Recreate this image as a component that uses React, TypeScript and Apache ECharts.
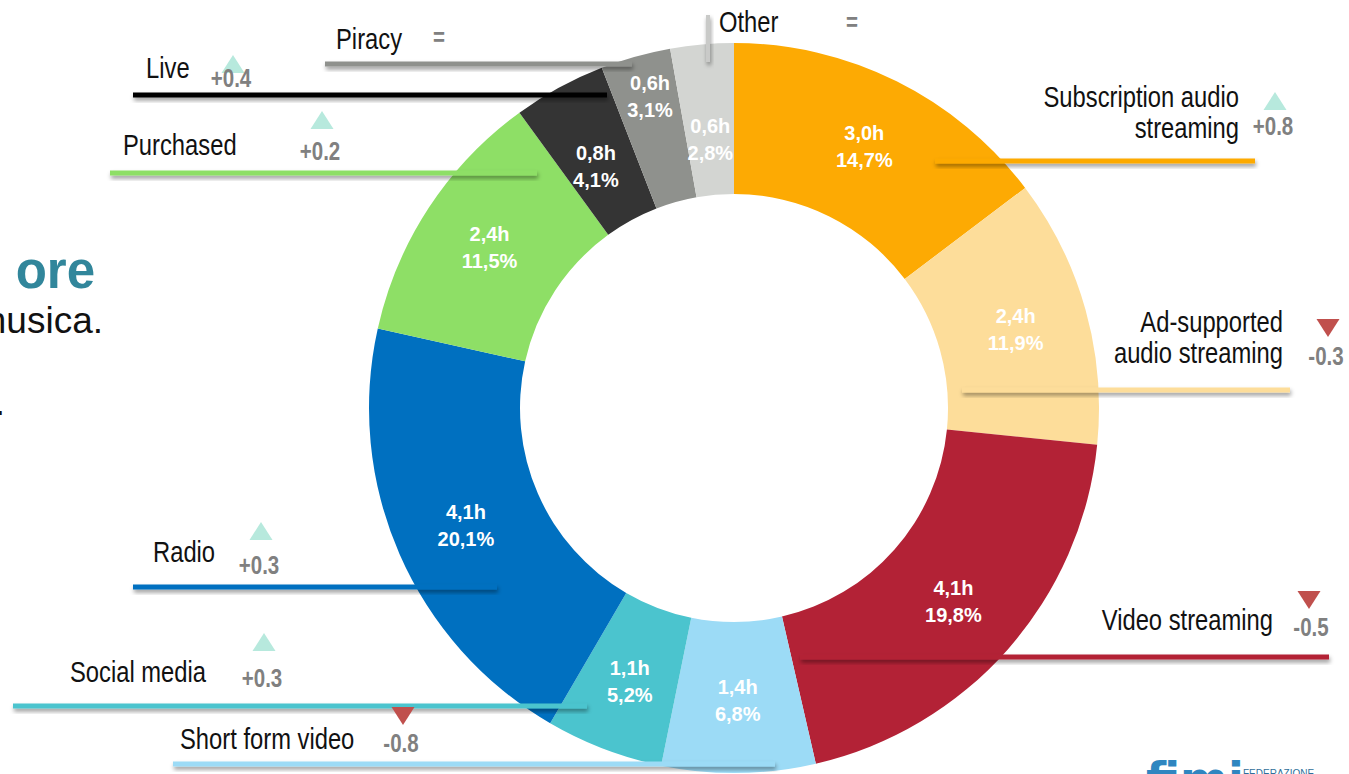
import React, { useEffect, useRef } from "react";
import * as echarts from "echarts";

// ---------- data ----------
const categories = [
  "Subscription audio streaming",
  "Ad-supported audio streaming",
  "Video streaming",
  "Short form video",
  "Social media",
  "Radio",
  "Purchased",
  "Live",
  "Piracy",
  "Other",
];
const labelLines = [
  ["Subscription audio", "streaming"],
  ["Ad-supported", "audio streaming"],
  ["Video streaming"],
  ["Short form video"],
  ["Social media"],
  ["Radio"],
  ["Purchased"],
  ["Live"],
  ["Piracy"],
  ["Other"],
];
const hours = [3.0, 2.4, 4.1, 1.4, 1.1, 4.1, 2.4, 0.8, 0.6, 0.6];
const shares = [14.7, 11.9, 19.8, 6.8, 5.2, 20.1, 11.5, 4.1, 3.1, 2.8];
const deltas = ["+0.8", "-0.3", "-0.5", "-0.8", "+0.3", "+0.3", "+0.2", "+0.4", "=", "="];
const trends = ["up", "down", "down", "down", "up", "up", "up", "up", "none", "none"];

// ---------- styles / layout ----------
const colors = [
  "#FDAA03",
  "#FDDD9A",
  "#B32236",
  "#9CDBF6",
  "#4BC4CE",
  "#0070C0",
  "#8EDF66",
  "#343434",
  "#8F918D",
  "#D3D5D2",
];
const lineColors = [
  "#FDAA03",
  "#FDDD9A",
  "#B32236",
  "#9CDBF6",
  "#4BC4CE",
  "#0070C0",
  "#8EDF66",
  "#000000",
  "#8F918D",
  "#C9CAC8",
];
// in-slice label nudges (px)
const labelNudges = [
  [0, 0],
  [0, 0],
  [0, 0],
  [0, 0],
  [0, 0],
  [0, 0],
  [0, 0],
  [2, 15],
  [-5, -30],
  [2, 23],
];
// label anchor (x, y of first line), alignment
const labelPos = [
  { x: 1239, y: 97, align: "right" },
  { x: 1283, y: 322, align: "right" },
  { x: 1273, y: 620, align: "right" },
  { x: 180, y: 739, align: "left" },
  { x: 70, y: 672, align: "left" },
  { x: 153, y: 552, align: "left" },
  { x: 123, y: 145, align: "left" },
  { x: 146, y: 68, align: "left" },
  { x: 336, y: 39, align: "left" },
  { x: 719, y: 22, align: "left" },
];
const deltaPos = [
  [1273, 126],
  [1326, 356],
  [1311, 627],
  [401, 743],
  [262, 678],
  [259, 565],
  [320, 151],
  [231, 78],
  [439, 37],
  [852, 22],
];
const triPos = [
  [1275, 101],
  [1328, 328],
  [1309, 600],
  [403, 716],
  [264, 642],
  [261, 531],
  [322, 120],
  [233, 64],
  null,
  null,
];
// x1, y1, x2, y2
const leaderLines = [
  [935, 161, 1255, 161],
  [962, 390, 1290, 390],
  [800, 657, 1329, 657],
  [173, 764, 775, 764],
  [13, 706, 587, 706],
  [133, 587, 497, 587],
  [110, 173, 537, 173],
  [133, 95, 607, 95],
  [325, 64, 632, 64],
  [708, 15, 708, 62],
];

const SANS = "'Liberation Sans', Arial, sans-serif";
const NARROW_SCALE = 0.82;

const fmt = (v: number) => v.toFixed(1).replace(".", ",");

export default function App() {
  const ref = useRef<HTMLDivElement>(null);

  useEffect(() => {
    const chart = echarts.init(ref.current!, null, { renderer: "svg" });

    const graphics: any[] = [];

    // leader lines (thin rects so that their shadows render)
    leaderLines.forEach((l, i) => {
      const horiz = l[1] === l[3];
      const t = horiz ? 5 : 4;
      graphics.push({
        type: "rect",
        z: 100,
        shape: horiz
          ? { x: l[0], y: l[1] - t / 2, width: l[2] - l[0], height: t }
          : { x: l[0] - t / 2, y: l[1], width: t, height: l[3] - l[1] },
        style: {
          fill: lineColors[i],
          shadowBlur: 4,
          shadowColor: "rgba(0,0,0,0.4)",
          shadowOffsetX: 1,
          shadowOffsetY: 3,
        },
      });
    });

    // category labels
    labelLines.forEach((lines, i) => {
      const p = labelPos[i];
      lines.forEach((t, j) => {
        graphics.push({
          type: "text",
          z: 110,
          x: p.x,
          y: p.y + j * 31,
          scaleX: NARROW_SCALE,
          style: {
            text: t,
            fill: "#111111",
            fontSize: 29,
            fontFamily: SANS,
            textAlign: p.align,
            textVerticalAlign: "middle",
          },
        });
      });
    });

    // triangles
    triPos.forEach((t, i) => {
      if (!t) return;
      const [cx, cy] = t;
      const w = 23;
      const h = 18;
      const up = trends[i] === "up";
      const pts = up
        ? [[cx - w / 2, cy + h / 2], [cx + w / 2, cy + h / 2], [cx, cy - h / 2]]
        : [[cx - w / 2, cy - h / 2], [cx + w / 2, cy - h / 2], [cx, cy + h / 2]];
      graphics.push({
        type: "polygon",
        z: 105,
        shape: { points: pts },
        style: { fill: up ? "#B7E9DD" : "#C0504D" },
      });
    });

    // deltas
    deltas.forEach((d, i) => {
      const [x, y] = deltaPos[i];
      graphics.push({
        type: "text",
        z: 110,
        x,
        y,
        scaleX: NARROW_SCALE,
        style: {
          text: d,
          fill: "#808080",
          fontSize: 25,
          fontWeight: "bold",
          fontFamily: SANS,
          textAlign: "center",
          textVerticalAlign: "middle",
        },
      });
    });

    // slide remnants around the chart
    graphics.push(
      {
        type: "text",
        x: 95,
        y: 270,
        style: {
          text: "ore",
          fill: "#31869B",
          fontSize: 51,
          fontWeight: "bold",
          fontFamily: SANS,
          textAlign: "right",
          textVerticalAlign: "middle",
        },
      },
      {
        type: "text",
        x: 103,
        y: 320,
        style: {
          text: "musica.",
          fill: "#111111",
          fontSize: 37,
          fontFamily: SANS,
          textAlign: "right",
          textVerticalAlign: "middle",
        },
      },
      {
        type: "text",
        x: 5,
        y: 402,
        style: {
          text: ".",
          fill: "#111111",
          fontSize: 37,
          fontFamily: SANS,
          textAlign: "right",
          textVerticalAlign: "middle",
        },
      },
      {
        type: "text",
        x: 1146,
        y: 756,
        style: {
          text: "fimi",
          fill: "#2F86C0",
          fontSize: 46,
          fontWeight: "bold",
          fontFamily: "'DejaVu Sans', sans-serif",
          textAlign: "left",
          textVerticalAlign: "top",
        },
      },
      {
        type: "text",
        x: 1243,
        y: 768,
        style: {
          text: "FEDERAZIONE",
          fill: "#2F6F9A",
          fontSize: 10,
          fontFamily: SANS,
          textAlign: "left",
          textVerticalAlign: "top",
        },
      }
    );

    chart.setOption({
      animation: false,
      backgroundColor: "#ffffff",
      series: [
        {
          type: "pie",
          center: [734, 408],
          radius: [214, 365],
          startAngle: 90,
          clockwise: true,
          avoidLabelOverlap: false,
          label: {
            show: true,
            position: "inside",
            color: "#ffffff",
            fontSize: 20,
            fontWeight: "bold",
            fontFamily: SANS,
            lineHeight: 27,
            formatter: (p: any) => `${fmt(hours[p.dataIndex])}h\n${fmt(shares[p.dataIndex])}%`,
          },
          labelLayout: (p: any) => ({
            dx: labelNudges[p.dataIndex][0],
            dy: labelNudges[p.dataIndex][1],
            hideOverlap: false,
          }),
          labelLine: { show: false },
          emphasis: { disabled: true },
          itemStyle: { borderWidth: 0 },
          data: categories.map((c, i) => ({
            name: c,
            value: shares[i],
            itemStyle: { color: colors[i] },
          })),
        },
      ],
      graphic: { elements: graphics },
    });

    return () => chart.dispose();
  }, []);

  return (
    <div
      ref={ref}
      style={{
        position: "fixed",
        left: 0,
        top: 0,
        width: 1349,
        height: 774,
        background: "#ffffff",
      }}
    />
  );
}
